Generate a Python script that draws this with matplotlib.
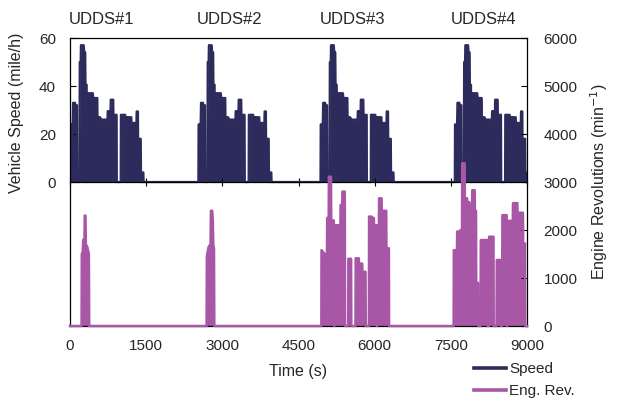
import numpy as np
import matplotlib.pyplot as plt
from matplotlib.lines import Line2D
from matplotlib.transforms import blended_transform_factory

plt.rcParams["font.family"] = ["Liberation Sans", "DejaVu Sans"]

SPEED_COLOR = "#2d2b5b"
REV_COLOR = "#a857a6"
TEXT_COLOR = "#262626"

udds_t = [0, 8, 12, 35, 45, 60, 100, 105, 138, 142, 185, 192, 210, 215, 270, 280, 300, 305,
          328, 332, 352, 358, 450, 458, 538, 542, 590, 620, 738, 742, 752, 755, 762, 765,
          798, 802, 852, 856, 918, 922, 998, 1002, 1088, 1092, 1125, 1128, 1133, 1136,
          1208, 1212, 1308, 1312, 1338, 1342, 1393, 1400, 1430, 1435, 1445, 1450]
udds_v = [0, 0, 24, 24, 15, 33, 33, 32, 32, 0, 0, 50, 50, 57, 57, 54, 54, 40.5,
          40.5, 0, 0, 37, 37, 35, 35, 27, 27, 26, 26, 29.5, 29.5, 0, 0, 29.5,
          29.5, 34.3, 34.3, 28, 28, 0, 0, 28, 28, 27, 27, 0, 0, 27,
          27, 24.6, 24.6, 29.4, 29.4, 18, 18, 0, 0, 4, 4, 0]

# start time of each of the four repeated cycles (s)
cycle_starts = [0, 2520, 4925, 7570]
cycle_names = ["UDDS#1", "UDDS#2", "UDDS#3", "UDDS#4"]
cycle_label_t = [612, 3138, 5566, 8151]

# engine revolutions (min^-1) over the whole test
rev_t = [0, 228, 232, 250, 262, 285, 290, 305, 312, 340, 372, 378,
         2690, 2695, 2712, 2730, 2768, 2775, 2800, 2812, 2822, 2836, 2842,
         4950, 4953, 5015, 5019, 5060, 5065, 5095, 5098, 5140, 5144, 5195, 5200, 5205, 5210,
         5325, 5329, 5360, 5364, 5412, 5416, 5478, 5482, 5536, 5540, 5622, 5626, 5688, 5692,
         5755, 5759, 5820, 5824, 5886, 5890, 5938, 5942, 5984, 5988, 6038, 6042, 6050, 6055,
         6083, 6087, 6136, 6140, 6228, 6232, 6280, 6284,
         7555, 7559, 7620, 7625, 7668, 7672, 7688, 7692, 7720, 7724, 7772, 7776, 7820, 7824,
         7865, 7869, 7918, 7922, 7970, 7974, 7996, 8000, 8036, 8040, 8085, 8090, 8220, 8224,
         8250, 8254, 8340, 8344, 8400, 8405, 8480, 8484, 8510, 8515, 8600, 8604, 8612, 8616,
         8720, 8725, 8810, 8815, 8920, 8925, 8960, 8965, 9000]
rev_v = [0, 0, 1500, 1550, 1800, 1800, 2300, 2300, 1700, 1650, 1500, 0,
         0, 1450, 1550, 1650, 1700, 2400, 2400, 2200, 1700, 1600, 0,
         0, 1580, 1500, 1450, 1450, 2250, 2250, 3110, 3110, 2200, 2200, 0, 0, 2100,
         2100, 2520, 2520, 2800, 2800, 0, 0, 1400, 1400, 0, 0, 1410, 1410, 1300,
         1300, 1130, 1130, 0, 0, 2280, 2280, 2250, 2250, 2100, 2100, 0, 0, 2100,
         2100, 2660, 2660, 2400, 2400, 1620, 1620, 0,
         0, 1580, 1580, 1970, 1970, 1580, 1580, 2000, 2000, 3390, 3390, 2660, 2660, 2580,
         2580, 2500, 2500, 2830, 2830, 2400, 2400, 900, 900, 0, 0, 1790, 1790, 0,
         0, 1860, 1860, 0, 0, 1375, 1375, 0, 0, 2310, 2310, 0, 0, 2190,
         2190, 2560, 2560, 2360, 2360, 1720, 1720, 0, 0]

x_ticks = [0, 1500, 3000, 4500, 6000, 7500, 9000]
speed_ticks = [0, 20, 40, 60]
rev_ticks = [0, 1000, 2000, 3000, 4000, 5000, 6000]

# stitch the four speed cycles together
t_parts, v_parts = [], []
for s in cycle_starts:
    t_parts.append(np.array(udds_t) + s)
    v_parts.append(np.array(udds_v))
speed_t = np.concatenate([[0]] + t_parts + [[9000]])
speed_v = np.concatenate([[0]] + v_parts + [[0]])

fig = plt.figure(figsize=(6.25, 4.03), dpi=100)
rect = [70 / 625, 1 - 326 / 403, 457 / 625, 288 / 403]
ax_s = fig.add_axes(rect)
ax_r = fig.add_axes(rect, sharex=ax_s)
ax_s.set_zorder(1)
ax_r.set_zorder(2)
ax_r.patch.set_visible(False)

# speed (upper half)
ax_s.fill_between(speed_t, speed_v, 0, color=SPEED_COLOR, lw=0)
ax_s.plot(speed_t, speed_v, color=SPEED_COLOR, lw=1.6)
ax_s.set_xlim(0, 9000)
ax_s.set_ylim(-60, 60)
ax_s.set_yticks(speed_ticks)
ax_s.spines["bottom"].set_position(("data", 0))
ax_s.spines["right"].set_visible(False)
ax_s.set_xticks(x_ticks)
ax_s.tick_params(axis="x", direction="inout", length=6, width=0.8, labelbottom=False)
ax_s.tick_params(axis="y", direction="in", length=4, width=0.8, labelsize=11,
                 labelcolor=TEXT_COLOR, pad=10)
ax_s.set_ylabel("Vehicle Speed (mile/h)", fontsize=11.5, color=TEXT_COLOR)
ax_s.yaxis.set_label_coords(-0.1, 0.74)

# engine revolutions (lower half, right axis)
ax_r.fill_between(rev_t, rev_v, 0, color=REV_COLOR, lw=0)
ax_r.plot(rev_t, rev_v, color=REV_COLOR, lw=1.8, clip_on=False, zorder=4)
ax_r.set_ylim(0, 6000)
ax_r.set_yticks(rev_ticks)
ax_r.yaxis.tick_right()
ax_r.yaxis.set_label_position("right")
ax_r.spines["left"].set_visible(False)
ax_r.spines["top"].set_visible(False)
ax_r.tick_params(axis="y", direction="in", length=4, width=0.8, labelsize=11,
                 labelcolor=TEXT_COLOR, pad=12)
ax_r.tick_params(axis="x", length=0, labelsize=11, labelcolor=TEXT_COLOR, pad=9)
ax_r.set_ylabel("Engine Revolutions (min$^{-1}$)", fontsize=11.5, color=TEXT_COLOR,
                labelpad=8)
ax_r.set_xlabel("Time (s)", fontsize=11.5, color=TEXT_COLOR, labelpad=8)
for sp in ax_r.spines.values():
    sp.set_linewidth(0.9)
for sp in ax_s.spines.values():
    sp.set_linewidth(0.9)

# cycle names above the plot
trans = blended_transform_factory(ax_s.transData, ax_s.transAxes)
for name, tx in zip(cycle_names, cycle_label_t):
    ax_s.text(tx, 1.063, name, transform=trans, ha="center", va="center",
              fontsize=12, color=TEXT_COLOR)

handles = [Line2D([], [], color=SPEED_COLOR, lw=2.6),
           Line2D([], [], color=REV_COLOR, lw=2.6)]
fig.legend(handles, ["Speed", "Eng. Rev."], loc="upper left",
           bbox_to_anchor=(474 / 625, 1 - 362 / 403), frameon=False, fontsize=11,
           handlelength=2.1, handletextpad=0.2, labelspacing=0.55, borderpad=0,
           borderaxespad=0, labelcolor=TEXT_COLOR)

fig.savefig("out.png", dpi=100)
